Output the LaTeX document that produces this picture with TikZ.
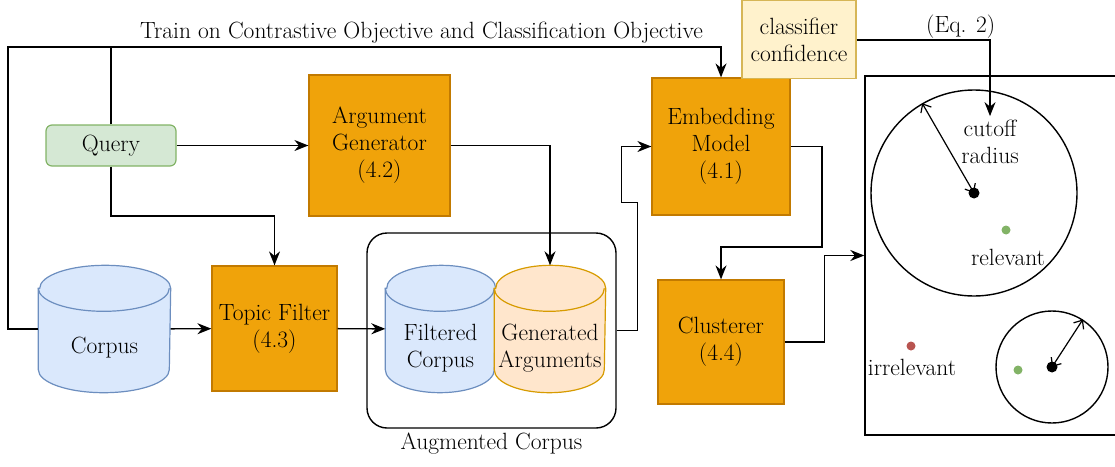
\documentclass[tikz,border=0pt]{standalone}
\usetikzlibrary{arrows.meta}

\definecolor{procfill}{HTML}{F0A30A}
\definecolor{procline}{HTML}{C27A00}
\definecolor{queryfill}{HTML}{D5E8D4}
\definecolor{queryline}{HTML}{82B366}
\definecolor{corpfill}{HTML}{DAE8FC}
\definecolor{corpline}{HTML}{6C8EBF}
\definecolor{genfill}{HTML}{FFE6CC}
\definecolor{genline}{HTML}{D79B00}
\definecolor{conffill}{HTML}{FFF2CC}
\definecolor{confline}{HTML}{D6B656}
\definecolor{reddot}{HTML}{B85450}

% cylinder drawn round an (invisible) node: name, x radius, fill, line, text
\newcommand{\drum}[5]{%
  \draw[draw=#4, fill=#3, line width=1.2pt]
    ([yshift=-23pt]#1.north west) -- ([yshift=23pt]#1.south west)
    arc[start angle=180, end angle=360, x radius=#2, y radius=23pt]
    -- ([yshift=-23pt]#1.north east)
    arc[start angle=0, end angle=180, x radius=#2, y radius=23pt] -- cycle;
  \draw[draw=#4, line width=1.2pt] ([yshift=-23pt]#1.north west)
    arc[start angle=180, end angle=360, x radius=#2, y radius=23pt];
  \node[align=center] at ([yshift=-19pt]#1.center) {#5};
}

\tikzset{
  proc/.style={draw=procline, fill=procfill, line width=1.2pt, align=center},
  store/.style={minimum width=#1, minimum height=126pt, inner sep=0pt},
  dot/.style={circle, fill=#1, inner sep=0pt, minimum size=9pt},
  rad/.style={line width=1.2pt, arrows={Straight Barb[length=7pt,width=12pt]-Straight Barb[length=7pt,width=12pt]}},
}

\begin{document}
\begin{tikzpicture}[x=1pt, y=-1pt, font=\fontsize{23.5}{27}\selectfont,
    line width=1.4pt, >={Stealth[length=14pt,width=11pt]}]
    \useasboundingbox (0,0) rectangle (1115,466);

    % left part of the pipeline
    \node[draw=queryline, fill=queryfill, rounded corners=6pt, line width=1.2pt,
        minimum width=130pt, minimum height=41pt] (query) at (111,145.5) {Query};
    \node[proc, minimum width=141pt, minimum height=141pt] (arggen) at (379.5,145.5) {Argument\\Generator\\(4.2)};
    \node[proc, minimum width=125pt, minimum height=125pt] (topic) at (274.5,328.5) {Topic Filter\\(4.3)};
    \node[store=131pt] (corpus) at (104.5,329) {};
    \drum{corpus}{65.5pt}{corpfill}{corpline}{Corpus}

    % augmented corpus
    \node[draw, rounded corners=20pt, minimum width=249pt, minimum height=195pt,
        label={below:Augmented Corpus}] (augmented) at (491.5,330.5) {};
    \node[store=109pt] (filtered) at (440.5,329) {};
    \drum{filtered}{54.5pt}{corpfill}{corpline}{Filtered\\Corpus}
    \node[store=110pt] (generated) at (550,329) {};
    \drum{generated}{55pt}{genfill}{genline}{Generated\\Arguments}

    % model and clustering
    \node[proc, minimum width=138pt, minimum height=137pt] (embed) at (721,146.5) {Embedding\\Model\\(4.1)};
    \node[proc, minimum width=126pt, minimum height=124pt] (clusterer) at (721,342) {Clusterer\\(4.4)};
    \node[draw=confline, fill=conffill, line width=1.2pt, align=center,
        minimum width=114pt, minimum height=78pt] (conf) at (799,39.5) {classifier\\confidence};

    % embedding space
    \node[draw, minimum width=260pt, minimum height=359pt] (space) at (995,255.5) {};
    \node[draw, circle, minimum size=206pt] (bigc) at (974,193) {};
    \node[draw, circle, minimum size=112pt] (smallc) at (1052,367) {};
    \node[dot=black, minimum size=11pt] (bigctr) at (974,193) {};
    \node[dot=black, minimum size=11pt] (smallctr) at (1052,367) {};
    \node[dot=queryline] (rel1) at (1006,230) {};
    \node[dot=queryline] (rel2) at (1018,370) {};
    \node[dot=reddot] (irr) at (911,346) {};
    \node[align=center] (cutoff) at (990,142) {cutoff\\radius};
    \node (relevant) at (1008,257) {relevant};
    \node (irrelevant) at (912,367) {irrelevant};
    \draw[rad] (bigc.120) -- (bigctr.center);
    \draw[rad] (smallc.57) -- (smallctr.center);

    % connectors
    \draw[->] (query) -- (arggen);
    \draw[->] (query.south) -- (query.south |- 0,216) -| (topic.north);
    \draw (query.north) -- (query.north |- 0,47);
    \draw[->] (corpus.west) -| (8,47) -| (embed.north)
        node[pos=0.29, above] {Train on Contrastive Objective and Classification Objective};
    \draw[->] (corpus) -- (topic);
    \draw[->] (topic) -- (filtered);
    \draw[->] (arggen.east) -| (generated.north);
    \draw[->] (augmented.east) -- ++(21,0) -- ++(0,-128) -- ++(-16,0) |- (embed.west);
    \draw[->] (embed.east) -| (822,247) -| (clusterer.north);
    \draw[->] (clusterer.east) -- ++(40,0) |- (space.west);
    \draw[->] (conf.east |- 0,40) -| (cutoff.north)
        node[pos=0.39, above, inner sep=1pt] {(Eq. 2)};
\end{tikzpicture}
\end{document}
